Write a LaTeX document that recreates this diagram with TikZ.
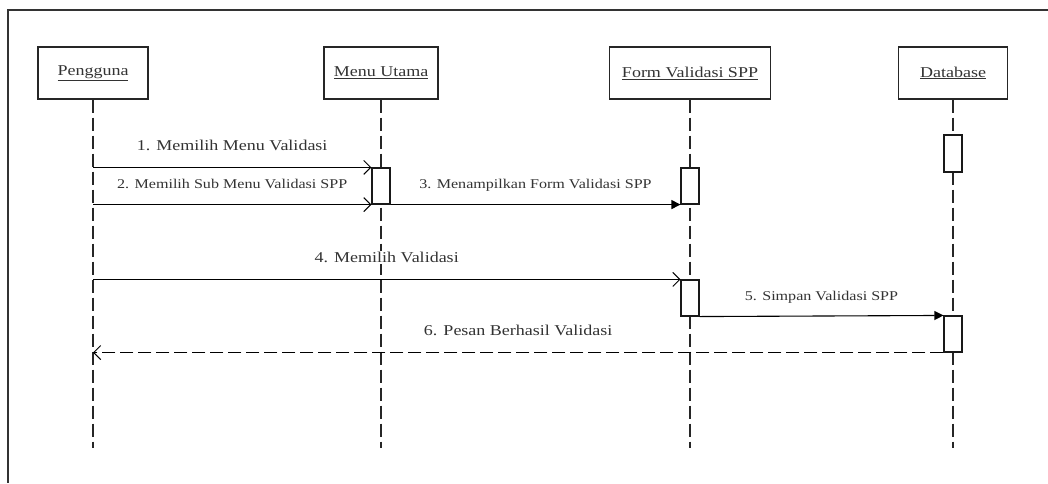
\documentclass[tikz,border=0pt]{standalone}
\usepackage{fontspec}
\setmainfont{Liberation Serif}[FakeStretch=1.2]
\usepackage{tikz}
\usetikzlibrary{arrows.meta}

\begin{document}
\begin{tikzpicture}[
        x=1pt, y=-1pt,
        line width=1.1pt,
        every node/.style={text=black!80},
        actor/.style={draw=black!85, line width=1.4pt, minimum height=52pt,
            inner sep=0pt, font=\fontsize{15}{18}\selectfont},
        lifeline/.style={draw=black!85, dash pattern=on 13pt off 5pt},
        bar/.style={draw=black!90, fill=white, minimum width=18pt, inner sep=0pt},
        call/.style={-{Straight Barb[length=7pt,width=14pt,line width=1pt]}},
        send/.style={-{Triangle[length=9pt,width=9pt]}},
        reply/.style={call, dash pattern=on 13pt off 5pt},
        big/.style={midway, anchor=base, yshift=17pt, fill=white, inner sep=1pt,
            font=\fontsize{15}{18}\selectfont},
        small/.style={midway, anchor=base, yshift=16pt, fill=white, inner sep=1pt,
            font=\fontsize{13.4}{16}\selectfont}
    ]
    \useasboundingbox (0,0) rectangle (1048,483);
    % frame
    \draw[black!80, line width=1.3pt] (1048,10) -- (8,10) -- (8,483);

    % objects
    \node[actor, minimum width=110pt] (pg) at (93,73)    {\underline{Pengguna}};
    \node[actor, minimum width=114pt] (mu) at (381,73)   {\underline{Menu Utama}};
    \node[actor, minimum width=161pt] (fv) at (690,73)   {\underline{Form Validasi SPP}};
    \node[actor, minimum width=109pt] (db) at (953,73)   {\underline{Database}};
    \coordinate (end) at (0,448);

    % lifelines
    \foreach \o in {pg, mu, fv, db}
        \draw[lifeline] (\o.south) -- (\o.south |- end);

    % activations
    \node[bar, minimum height=36pt] (mua) at (381,186)   {};
    \node[bar, minimum height=36pt] (fva) at (690,186)   {};
    \node[bar, minimum height=36pt] (fvb) at (690,298)   {};
    \node[bar, minimum height=37pt] (dba) at (953,153.5) {};
    \node[bar, minimum height=36pt] (dbb) at (953,334)   {};

    % messages
    \draw[call] (pg |- mua.north west) -- (mua.north west)
        node[big] {1. Memilih Menu Validasi};
    \draw[call] (pg |- mua.south west) -- (mua.south west)
        node[small] {2. Memilih Sub Menu Validasi SPP};
    \draw[send] (mua.south east) -- (fva.south west)
        node[small] {3. Menampilkan Form Validasi SPP};
    \draw[call] (pg |- fvb.north west) -- (fvb.north west)
        node[big] {4. Memilih Validasi};
    \draw[send] (fvb.south east) -- (dbb.north west)
        node[small] {5. Simpan Validasi SPP};
    \draw[reply] (dbb.south west) -- (pg |- dbb.south west)
        node[big] {6. Pesan Berhasil Validasi};
\end{tikzpicture}
\end{document}
